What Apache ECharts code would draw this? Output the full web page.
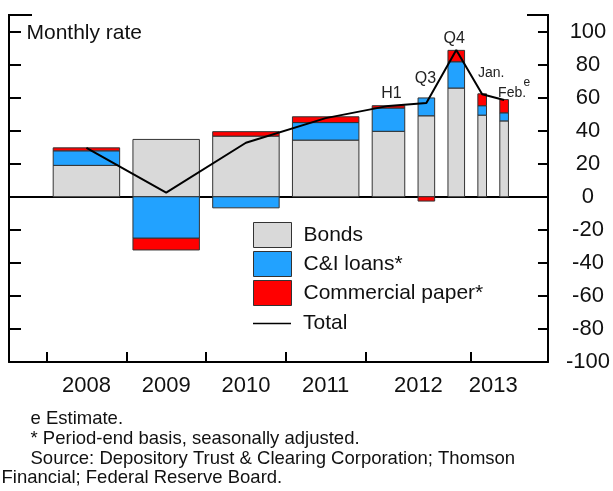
<!DOCTYPE html>
<html><head><meta charset="utf-8">
<script src="https://cdn.jsdelivr.net/npm/echarts@6/dist/echarts.min.js"></script>
<style>html,body{margin:0;padding:0;background:#fff}#c{width:613px;height:491px}</style>
</head><body><div id="c"></div>
<script>
// ---------------- data ----------------
const periods      = ['2008','2009','2010','2011','2012 H1','2012 Q3','2012 Q4','2013 Jan.','2013 Feb.'];
const periodYear   = ['2008','2009','2010','2011','2012','2012','2012','2013','2013'];
const periodMonths = [12, 12, 12, 12, 6, 3, 3, 1, 1];
const periodNote   = ['', '', '', '', 'H1', 'Q3', 'Q4', 'Jan.', 'Feb.'];
const periodNoteSup= ['', '', '', '', '', '', '', '', 'e'];
const bonds     = [19.0, 34.7, 36.7, 34.3, 39.6, 49.0, 65.8, 49.4, 45.9];
const cniLoans  = [ 8.8,-25.1, -6.7, 10.6, 14.1, 10.8, 15.9,  5.7,  4.9];
const commPaper = [ 1.8, -7.1,  2.7,  3.5,  1.4, -2.6,  6.9,  7.2,  8.0];
const total     = [29.6,  2.5, 32.7, 47.6, 55.0, 56.8, 88.8, 62.0, 58.6];
const seriesNames = ['Bonds', 'C&I loans*', 'Commercial paper*', 'Total'];
const yMin = -100, yMax = 100, yStep = 20;
const footnotes = ['e Estimate.', '* Period-end basis, seasonally adjusted.',
  'Source: Depository Trust & Clearing Corporation; Thomson', 'Financial; Federal Reserve Board.'];

// ---------------- layout / style ----------------
const FONT = 'Liberation Sans, Arial, sans-serif';
const BAR_WIDTH = {12: 10, 6: 4.9, 3: 2.5, 1: 1.3};
const BAR_GAP = 2;
const X_MIN = -5.65, X_MAX = 75.45, Y_TOP = 110;
const COLORS = ['#d9d9d9', '#22a2ff', '#ff0000'];
const NOTE_OFFSET = {'H1': [3, -12], 'Q3': [-1, -24], 'Q4': [-2, -11], 'Jan.': [9, -21], 'Feb.': [8, -7]};
const NOTE_SIZE = {'H1': 16, 'Q3': 16, 'Q4': 16, 'Jan.': 14, 'Feb.': 14};

// bar extents along x, from period lengths
let cursor = BAR_GAP / 2;
const xs = periodMonths.map(m => { const s = cursor, e = s + BAR_WIDTH[m]; cursor = e + BAR_GAP; return [s, e]; });
const centers = xs.map(p => (p[0] + p[1]) / 2);

// year groups -> label positions and boundary ticks
const years = [...new Set(periodYear)];
const yearLabelPos = years.map(y => {
  const idx = periodYear.map((v, i) => v === y ? i : -1).filter(i => i >= 0);
  return (xs[idx[0]][0] + xs[idx[idx.length - 1]][1]) / 2;
});
const yearTicks = [xs[0][0] - BAR_GAP / 2];
for (let i = 1; i < periods.length; i++) {
  if (periodYear[i] !== periodYear[i - 1]) yearTicks.push((xs[i - 1][1] + xs[i][0]) / 2);
}

// stacking (positive and negative stacks separately)
const comps = [bonds, cniLoans, commPaper];
const posBase = periods.map(() => 0), negBase = periods.map(() => 0);
const segs = comps.map(arr => arr.map((v, i) => {
  let y0, y1;
  if (v >= 0) { y0 = posBase[i]; y1 = y0 + v; posBase[i] = y1; }
  else { y0 = negBase[i]; y1 = y0 + v; negBase[i] = y1; }
  return [xs[i][0], xs[i][1], y0, y1];
}));

function barRenderer(color) {
  return function (params, api) {
    const p0 = api.coord([api.value(0), api.value(2)]);
    const p1 = api.coord([api.value(1), api.value(3)]);
    const h = Math.abs(p1[1] - p0[1]);
    if (h < 0.01) return null;
    return {
      type: 'rect',
      shape: {x: Math.min(p0[0], p1[0]), y: Math.min(p0[1], p1[1]), width: Math.abs(p1[0] - p0[0]), height: h},
      style: {fill: color, stroke: '#333', lineWidth: 1}
    };
  };
}

const chart = echarts.init(document.getElementById('c'), null, {renderer: 'canvas'});
const option = {
  animation: false,
  backgroundColor: '#fff',
  textStyle: {fontFamily: FONT, color: '#111'},
  grid: {left: 9, right: 62, top: 15, bottom: 129, containLabel: false},
  xAxis: [{
    type: 'value', min: X_MIN, max: X_MAX, position: 'bottom',
    axisLine: {show: true, onZero: false, lineStyle: {color: '#000', width: 2}},
    axisTick: {show: true, inside: true, length: 10, lineStyle: {color: '#000', width: 2}, customValues: yearTicks},
    axisLabel: {show: true, customValues: yearLabelPos, margin: 13, fontSize: 22, color: '#111', fontFamily: FONT,
      formatter: v => { let best = 0; yearLabelPos.forEach((p, i) => { if (Math.abs(p - v) < Math.abs(yearLabelPos[best] - v)) best = i; }); return years[best]; }},
    splitLine: {show: false}
  }, {
    type: 'value', min: X_MIN, max: X_MAX, position: 'bottom',
    axisLine: {show: true, onZero: true, lineStyle: {color: '#000', width: 2}},
    axisTick: {show: false}, axisLabel: {show: false}, splitLine: {show: false}
  }],
  yAxis: [{
    type: 'value', min: yMin, max: Y_TOP, interval: yStep, position: 'left',
    axisLine: {show: true, onZero: false, lineStyle: {color: '#000', width: 2}},
    axisTick: {show: true, inside: true, length: 12, lineStyle: {color: '#000', width: 2}},
    axisLabel: {show: false}, splitLine: {show: false}
  }, {
    type: 'value', min: yMin, max: Y_TOP, interval: yStep, position: 'right',
    axisLine: {show: true, onZero: false, lineStyle: {color: '#000', width: 2}},
    axisTick: {show: true, inside: true, length: 10, lineStyle: {color: '#000', width: 2}},
    axisLabel: {show: true, align: 'center', margin: 40, fontSize: 22, color: '#111', fontFamily: FONT,
      formatter: v => (v > yMax ? '' : String(v))},
    splitLine: {show: false}
  }],
  legend: [{
    left: 253, top: 222, orient: 'vertical', padding: 0, itemGap: 3, itemWidth: 38, itemHeight: 25,
    icon: 'rect', selectedMode: false,
    textStyle: {fontSize: 21, color: '#111', fontFamily: FONT, padding: [0, 0, 0, 7]},
    data: seriesNames.slice(0, 3).map((n, i) => ({name: n, itemStyle: {color: COLORS[i], borderColor: '#333', borderWidth: 1}}))
  }, {
    left: 253, top: 313, orient: 'vertical', padding: 0, itemWidth: 38, itemHeight: 25, selectedMode: false,
    textStyle: {fontSize: 21, color: '#111', fontFamily: FONT, padding: [0, 0, 0, 7]},
    data: [{name: seriesNames[3], icon: 'path://M0,0L38,0L38,1.4L0,1.4Z', itemStyle: {color: '#000', borderWidth: 0}}]
  }],
  series: [
    ...segs.map((d, k) => ({
      name: seriesNames[k], type: 'custom', xAxisIndex: 0, yAxisIndex: 0,
      itemStyle: {color: COLORS[k]},
      encode: {x: [0, 1], y: [2, 3]},
      renderItem: barRenderer(COLORS[k]),
      data: d, z: 2
    })),
    {
      name: seriesNames[3], type: 'line', xAxisIndex: 0, yAxisIndex: 0,
      data: centers.map((c, i) => [c, total[i]]),
      symbol: 'none', lineStyle: {color: '#000', width: 2}, itemStyle: {color: '#000'}, z: 5
    },
    {
      name: 'notes', type: 'custom', xAxisIndex: 0, yAxisIndex: 0, silent: true, z: 6,
      encode: {x: 0, y: 1},
      data: centers.map((c, i) => [c, total[i], i]),
      renderItem: function (params, api) {
        const i = api.value(2);
        const note = periodNote[i];
        if (!note) return null;
        const p = api.coord([api.value(0), api.value(1)]);
        const off = NOTE_OFFSET[note];
        const children = [{
          type: 'text', x: p[0] + off[0], y: p[1] + off[1],
          style: {text: note, fontSize: NOTE_SIZE[note], fontFamily: FONT, fill: '#222', align: 'center', verticalAlign: 'middle'}
        }];
        if (periodNoteSup[i]) {
          children.push({
            type: 'text', x: p[0] + off[0] + 14.6, y: p[1] + off[1] - 10,
            style: {text: periodNoteSup[i], fontSize: 12, fontFamily: FONT, fill: '#222', align: 'center', verticalAlign: 'middle'}
          });
        }
        return {type: 'group', children};
      }
    }
  ],
  graphic: [
    {type: 'text', left: 26.5, top: 23, style: {text: 'Monthly rate', fontSize: 21, fontFamily: FONT, fill: '#111'}},
    ...footnotes.map((t, i) => ({
      type: 'text', x: i === 3 ? 1.5 : 30.5, y: [419, 439, 458.5, 478][i],
      style: {text: t, fontSize: 18.5, fontFamily: FONT, fill: '#111', verticalAlign: 'middle', align: 'left'}
    }))
  ]
};
chart.setOption(option);

// short corner stubs along the top edge of the frame
const tl = chart.convertToPixel({gridIndex: 0}, [X_MIN, Y_TOP]);
const tr = chart.convertToPixel({gridIndex: 0}, [X_MAX, Y_TOP]);
chart.setOption({graphic: option.graphic.concat([
  {type: 'line', shape: {x1: tl[0] - 1, y1: tl[1], x2: tl[0] + 23, y2: tl[1]}, style: {stroke: '#000', lineWidth: 2}},
  {type: 'line', shape: {x1: tr[0] - 21, y1: tr[1], x2: tr[0] + 1, y2: tr[1]}, style: {stroke: '#000', lineWidth: 2}}
])});
</script>
</body></html>
